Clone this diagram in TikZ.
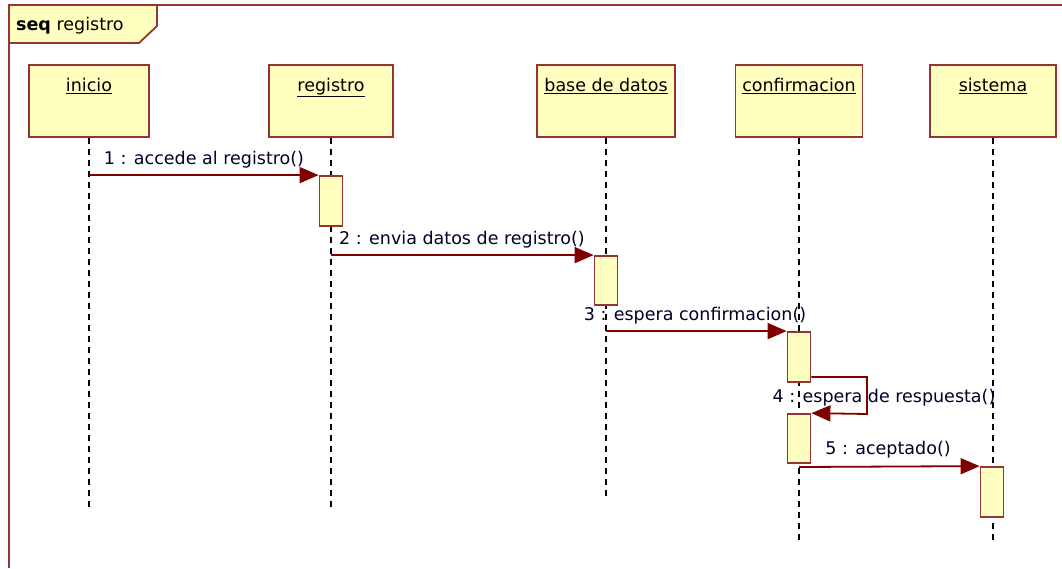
\documentclass[tikz,border=0pt]{standalone}
\usepackage{fontspec}
\setmainfont{DejaVu Sans}
\usetikzlibrary{arrows.meta}
\definecolor{umlfill}{HTML}{FFFFC0}
\definecolor{umlline}{HTML}{993333}
\definecolor{umlmsg}{HTML}{800000}

\begin{document}
\begin{tikzpicture}[
    x=1pt, y=-1pt,
    lifebox/.style={draw=umlline, fill=umlfill, line width=1.8pt, minimum width=#1, minimum height=72pt, inner sep=0pt},
    lifename/.style={font=\fontsize{17.5}{19}\selectfont, anchor=north, inner sep=0pt},
    actbox/.style={draw=umlline, fill=umlfill, line width=1.8pt, minimum width=23pt, minimum height=#1, inner sep=0pt},
    lifeline/.style={dash pattern=on 6pt off 5pt, line width=1.5pt},
    msg/.style={draw=umlmsg, line width=1.8pt, -{Triangle[length=19pt, width=16pt]}},
    msglabel/.style={font=\fontsize{17.5}{19}\selectfont, text=black!85!blue, inner sep=0pt}
]
    \useasboundingbox (0,0) rectangle (1062,568);

    % Frame
    \draw[umlline, line width=2pt] (9,568) -- (9,5) -- (1062,5);
    \draw[umlline, line width=1.8pt, fill=umlfill] (9,5) -- (157,5) -- (157,26) -- (139,43) -- (9,43) -- cycle;
    \node[anchor=west, font=\fontsize{17.5}{19}\selectfont, inner sep=0pt] (frametitle) at (16,26) {\textbf{seq} registro};

    % Lifelines (heads)
    \node[lifebox=120pt] (inicio) at (89,101) {};
    \node[lifebox=124pt] (registro) at (331,101) {};
    \node[lifebox=138pt] (bd) at (606,101) {};
    \node[lifebox=127pt] (confirm) at (799,101) {};
    \node[lifebox=126pt] (sistema) at (993,101) {};

    \node[lifename] (inicio-t) at ([yshift=-14pt]inicio.north) {\underline{inicio}};
    \node[lifename] (registro-t) at ([yshift=-14pt]registro.north) {\underline{registro}};
    \node[lifename] (bd-t) at ([yshift=-14pt]bd.north) {\underline{base de datos}};
    \node[lifename] (confirm-t) at ([yshift=-14pt]confirm.north) {\underline{confirmacion}};
    \node[lifename] (sistema-t) at ([yshift=-14pt]sistema.north) {\underline{sistema}};

    % Dashed lines
    \coordinate (inicio-end) at (89,509);
    \coordinate (registro-end) at (331,509);
    \coordinate (bd-end) at (606,500);
    \coordinate (confirm-end) at (799,541);
    \coordinate (sistema-end) at (993,541);
    \draw[lifeline] (inicio) -- (inicio-end);
    \draw[lifeline] (registro) -- (registro-end);
    \draw[lifeline] (bd) -- (bd-end);
    \draw[lifeline] (confirm) -- (confirm-end);
    \draw[lifeline] (sistema) -- (sistema-end);

    % Activations
    \node[actbox=50pt] (act1) at (331,201) {};
    \node[actbox=49pt] (act2) at (606,280.5) {};
    \node[actbox=50pt] (act3) at (799,357) {};
    \node[actbox=49pt] (act4) at (799,438.5) {};
    \node[actbox=50pt] (act5) at (992,492) {};

    % Messages
    \draw[msg] (inicio |- act1.north west) -- (act1.north west);
    \draw[msg] (registro |- act2.north west) -- (act2.north west);
    \draw[msg] (bd |- act3.north west) -- (act3.north west);
    \coordinate (self-a) at (867,377);
    \coordinate (self-b) at (867,414);
    \draw[msg] (act3.south east |- self-a) -- (self-a) -- (self-b) -- (act4.north east);
    \coordinate (msg5-start) at (799,467);
    \draw[msg] (msg5-start) -- (act5.north west);

    % Message labels
    \node[msglabel] (lbl1) at (204,160) {1 : accede al registro()};
    \node[msglabel] (lbl2) at (462,240) {2 : envia datos de registro()};
    \node[msglabel] (lbl3) at (695,316) {3 : espera confirmacion()};
    \node[msglabel] (lbl4) at (884,398) {4 : espera de respuesta()};
    \node[msglabel] (lbl5) at (888,450) {5 : aceptado()};
\end{tikzpicture}
\end{document}
